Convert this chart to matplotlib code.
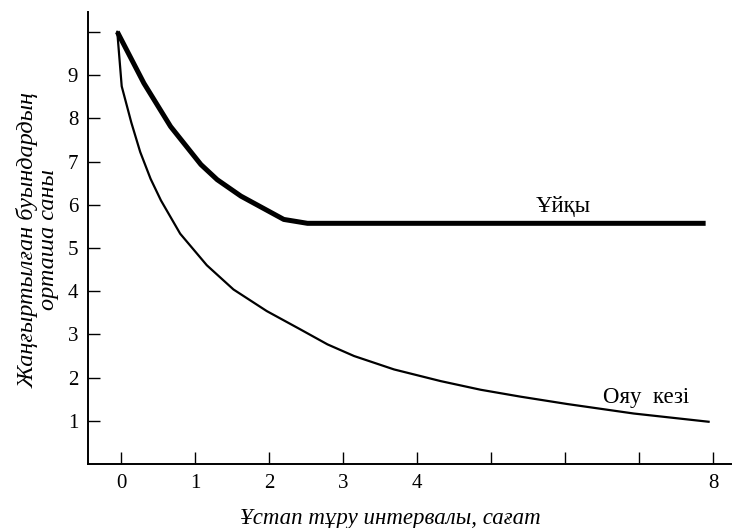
import matplotlib
matplotlib.use("Agg")
import matplotlib.pyplot as plt

plt.rcParams["font.family"] = ["Liberation Serif", "DejaVu Serif"]

# hours after learning vs mean syllables recalled
sleep_x = [-0.05, 0.31, 0.67, 1.08, 1.30, 1.62, 2.20, 2.52, 7.90]
sleep_y = [10.0, 8.81, 7.81, 6.93, 6.58, 6.20, 5.66, 5.57, 5.57]

wake_x = [-0.05, 0.01, 0.14, 0.26, 0.40, 0.54, 0.80, 1.16, 1.52, 1.97,
          2.42, 2.79, 3.15, 3.69, 4.32, 4.86, 5.40, 6.03, 6.93, 7.94]
wake_y = [10.0, 8.74, 7.90, 7.22, 6.60, 6.10, 5.33, 4.60, 4.04, 3.54,
          3.12, 2.77, 2.50, 2.19, 1.92, 1.72, 1.56, 1.39, 1.17, 0.98]

x_ticks = [0, 1, 2, 3, 4, 5, 6, 7, 8]
x_tick_labels = ["0", "1", "2", "3", "4", "", "", "", "8"]
y_ticks = [1, 2, 3, 4, 5, 6, 7, 8, 9, 10]
y_tick_labels = ["1", "2", "3", "4", "5", "6", "7", "8", "9", ""]

fig = plt.figure(figsize=(7.33, 5.28), dpi=100)
ax = fig.add_axes([0.120, 0.121, 0.877, 0.856])

ax.plot(sleep_x, sleep_y, color="black", linewidth=3.6, solid_capstyle="butt")
ax.plot(wake_x, wake_y, color="black", linewidth=1.6)

ax.text(5.98, 5.95, "Ұйқы", fontsize=16.5, ha="center", va="center")
ax.text(7.10, 1.55, "Ояу  кезі", fontsize=16.5, ha="center", va="center")

ax.set_xlim(-0.446, 8.24)
ax.set_ylim(0.0, 10.455)
ax.set_xticks(x_ticks)
ax.set_xticklabels(x_tick_labels)
ax.set_yticks(y_ticks)
ax.set_yticklabels(y_tick_labels)
ax.tick_params(direction="in", length=8.5, width=1.0, labelsize=15, pad=7)

for side in ["top", "right"]:
    ax.spines[side].set_visible(False)
for side in ["left", "bottom"]:
    ax.spines[side].set_linewidth(1.4)

ax.set_xlabel("Ұстап тұру интервалы, сағат", fontsize=16.5, style="italic")
ax.xaxis.set_label_coords(0.471, -0.12)
ax.set_ylabel("Жаңғыртылған буындардың\nорташа саны", fontsize=17.5,
              style="italic", linespacing=0.95)
ax.yaxis.set_label_coords(-0.078, 0.496)
ax.yaxis.label.set_va("center")
ax.xaxis.label.set_va("center")

fig.savefig("out.png", dpi=100)
